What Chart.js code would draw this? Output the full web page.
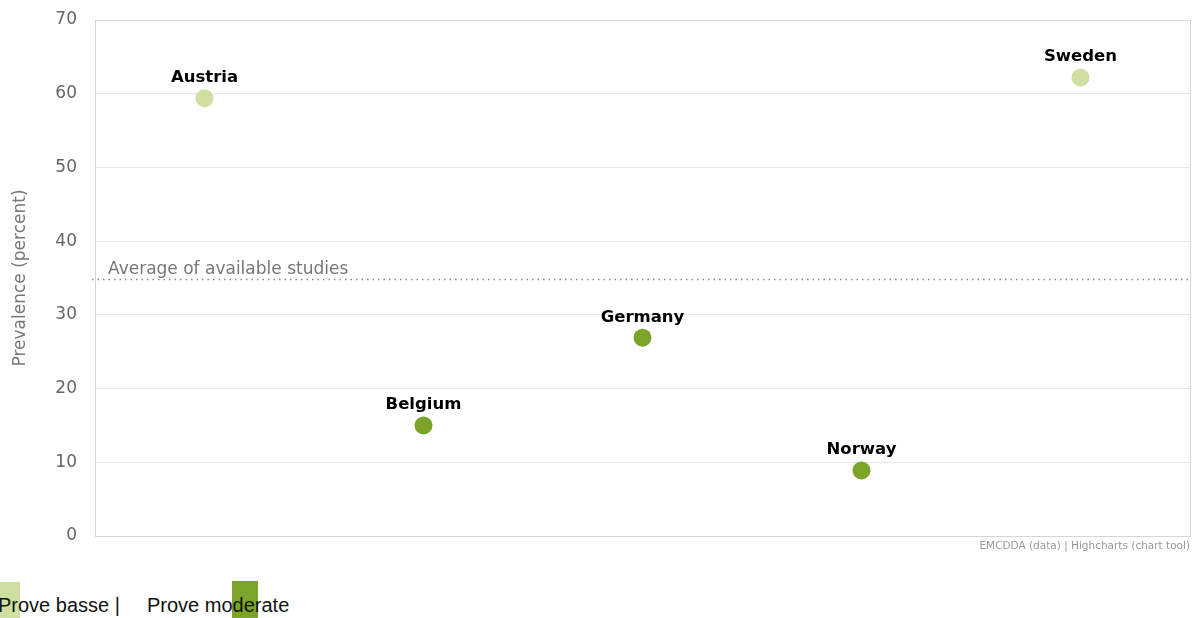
<!DOCTYPE html>
<html>
<head>
<meta charset="utf-8">
<script src="https://cdn.jsdelivr.net/npm/chart.js@4"></script>
<style>
  html, body { margin: 0; padding: 0; background: #fff; overflow: hidden; }
  #wrap { position: relative; width: 1199px; height: 560px; }
  #legend { position: relative; height: 58px; font-family: "Liberation Sans", Arial, sans-serif; font-size: 20px; color: #111; }
  .sw { position: absolute; }
  .txt { position: absolute; top: 34px; white-space: pre; }
</style>
</head>
<body>
<div id="wrap"><canvas id="chart" width="1199" height="560"></canvas></div>
<div id="legend">
  <div class="sw" style="left:0;top:22px;width:20px;height:36px;background:#cfdfa2"></div>
  <div class="sw" style="left:232px;top:21px;width:26px;height:37px;background:#7ba428"></div>
  <div class="txt" style="left:-2px">Prove basse |</div>
  <div class="txt" style="left:147px">Prove moderate</div>
</div>
<script>
var countries = ['Austria', 'Belgium', 'Germany', 'Norway', 'Sweden'];
var prevalence = [59.4, 15.0, 26.9, 8.9, 62.2];
var evidence = ['low', 'moderate', 'moderate', 'moderate', 'low'];
var average = 34.9;
var averageLabel = 'Average of available studies';

var lightGreen = '#cfdfa2';
var darkGreen = '#7ba428';
var pointColors = evidence.map(function (e) { return e == 'low' ? lightGreen : darkGreen; });

var extras = {
	id: 'extras',
	afterDraw: function (c) {
		var ctx = c.ctx;
		var a = c.chartArea;
		var y = c.scales.y;
		ctx.save();
		// frame
		ctx.strokeStyle = '#d6d6d6';
		ctx.lineWidth = 1;
		ctx.strokeRect(Math.round(a.left) + 0.5, Math.round(a.top) + 0.5, Math.round(a.right - a.left), Math.round(a.bottom - a.top));
		// average line
		var ay = Math.round(y.getPixelForValue(average)) + 0.5;
		ctx.strokeStyle = '#8a8a8a';
		ctx.lineWidth = 1.5;
		ctx.setLineDash([1.5, 4]);
		ctx.beginPath();
		ctx.moveTo(a.left - 3, ay);
		ctx.lineTo(a.right, ay);
		ctx.stroke();
		ctx.setLineDash([]);
		ctx.fillStyle = '#777';
		ctx.font = '17px "DejaVu Sans"';
		ctx.textAlign = 'left';
		ctx.textBaseline = 'alphabetic';
		ctx.fillText(averageLabel, a.left + 13, ay - 6);
		// point labels
		var meta = c.getDatasetMeta(0);
		ctx.fillStyle = '#000';
		ctx.font = 'bold 16.5px "DejaVu Sans"';
		ctx.textAlign = 'center';
		meta.data.forEach(function (p, i) {
			ctx.fillText(countries[i], p.x, p.y - 16);
		});
		// credits
		ctx.fillStyle = '#999';
		ctx.font = '10.5px "DejaVu Sans"';
		ctx.textAlign = 'right';
		ctx.fillText('EMCDDA (data) | Highcharts (chart tool)', 1190, 549);
		ctx.restore();
	}
};

var chart = new Chart(document.getElementById('chart'), {
	type: 'line',
	data: {
		labels: countries,
		datasets: [{
			data: prevalence,
			showLine: false,
			pointRadius: 9,
			pointHoverRadius: 9,
			pointBorderWidth: 0,
			pointBackgroundColor: pointColors,
			pointBorderColor: pointColors
		}]
	},
	options: {
		responsive: false,
		animation: false,
		layout: { padding: { left: 0, right: 6, top: 20, bottom: 24 } },
		plugins: { legend: { display: false }, tooltip: { enabled: false } },
		scales: {
			x: {
				offset: true,
				grid: { display: false, drawTicks: false },
				border: { display: false },
				ticks: { display: false },
				afterFit: function (s) { s.height = 0; s.paddingLeft = 0; s.paddingRight = 0; }
			},
			y: {
				min: 0,
				max: 70,
				ticks: { stepSize: 10, color: '#666', font: { family: 'DejaVu Sans', size: 17 }, padding: 18 },
				grid: { color: '#e6e6e6', drawTicks: false },
				border: { display: false },
				title: { display: true, text: 'Prevalence (percent)', color: '#777', font: { family: 'DejaVu Sans', size: 17 }, padding: { top: 10, bottom: 0 } },
				afterFit: function (s) { s.width = 95; s.paddingTop = 0; s.paddingBottom = 0; }
			}
		}
	},
	plugins: [extras]
});
</script>
</body>
</html>
